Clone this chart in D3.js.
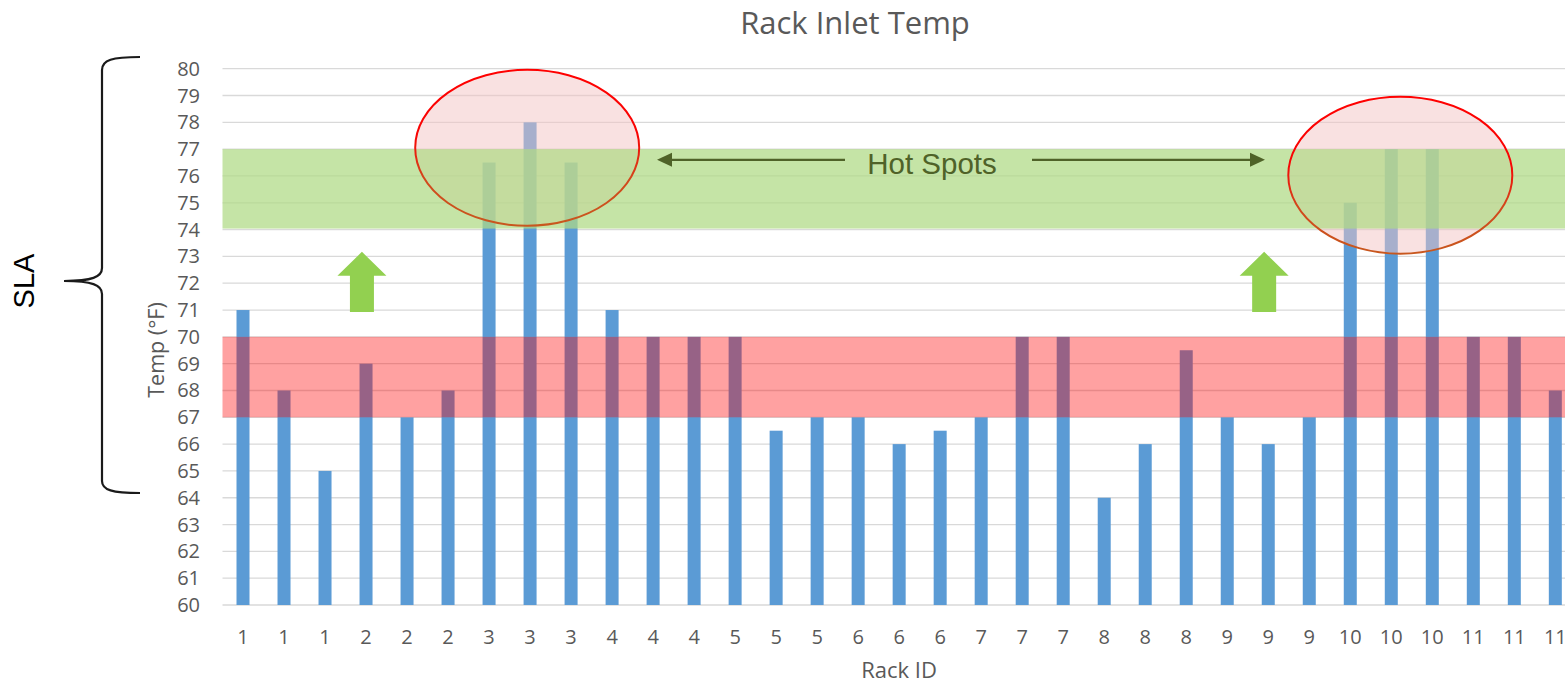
<!DOCTYPE html>
<html><head><meta charset="utf-8">
<script src="https://cdn.jsdelivr.net/npm/d3@7"></script>
<style>
html,body{margin:0;padding:0;background:#fff;}
svg{display:block;}
text{font-family:"Open Sans",sans-serif;}
</style></head>
<body>
<svg id="chart" width="1565" height="684"></svg>
<script>
// ---- data ----
const categories = ["1","1","1","2","2","2","3","3","3","4","4","4","5","5","5","6","6","6","7","7","7","8","8","8","9","9","9","10","10","10","11","11","11"];
const values = [71,68,65,69,67,68,76.5,78,76.5,71,70,70,70,66.5,67,67,66,66.5,67,70,70,64,66,69.5,67,66,67,75,77,77,70,70,68];
const yTicks = [60,61,62,63,64,65,66,67,68,69,70,71,72,73,74,75,76,77,78,79,80];
const yDomain = [60,80];
const hotBand = [74,77];     // green target band
const coldBand = [67,70];    // red (under-temp) band
const title = "Rack Inlet Temp";
const xTitle = "Rack ID";
const yTitle = "Temp (°F)";
const slaLabel = "SLA";
const hotLabel = "Hot Spots";

(function(){
// ---- layout ----
const svg = d3.select("#chart");
const pLeft = 222.5, step = 41.01;
const pRight = pLeft + step*categories.length;
const pTop = 68.7, pBottom = 605;

const idx = d3.range(categories.length);
const x = d3.scaleBand().domain(idx).range([pLeft, pRight]).paddingInner(0.683).paddingOuter(0.683/2);
const y = d3.scaleLinear().domain(yDomain).range([pBottom, pTop]);
const cx = i => x(i) + x.bandwidth()/2;
const xf = d3.scaleLinear().domain([0, categories.length-1]).range([cx(0), cx(categories.length-1)]);

const grey = "#595959";

const defs = svg.append("defs");
const grad = defs.append("linearGradient").attr("id","ellStroke").attr("x1",0).attr("y1",0).attr("x2",0).attr("y2",1);
grad.append("stop").attr("offset","0").attr("stop-color","#ff0000");
grad.append("stop").attr("offset","0.42").attr("stop-color","#f80404");
grad.append("stop").attr("offset","0.7").attr("stop-color","#d2481c");
grad.append("stop").attr("offset","1").attr("stop-color","#c8571e");

// gridlines
svg.append("g").selectAll("line").data(yTicks).join("line")
  .attr("x1", pLeft).attr("x2", pRight)
  .attr("y1", d=>y(d)).attr("y2", d=>y(d))
  .attr("stroke", "#d9d9d9").attr("stroke-width", 1.3);

// bars
svg.append("g").selectAll("rect").data(values).join("rect")
  .attr("x", (d,i)=>x(i)).attr("width", x.bandwidth())
  .attr("y", d=>y(d)).attr("height", d=>y(yDomain[0])-y(d))
  .attr("fill", "#5b9bd5");

// red band
svg.append("rect").attr("x", pLeft).attr("width", pRight-pLeft)
  .attr("y", y(coldBand[1])).attr("height", y(coldBand[0])-y(coldBand[1]))
  .attr("fill", "#ff0000").attr("fill-opacity", 0.37);

// ellipses (fill)
const ellipses = [{i:6.93, v:77.05, rx:112, ry:78}, {i:28.22, v:76.03, rx:112, ry:78.5}];
svg.append("g").selectAll("ellipse").data(ellipses).join("ellipse")
  .attr("cx", d=>xf(d.i)).attr("cy", d=>y(d.v)).attr("rx", d=>d.rx).attr("ry", d=>d.ry)
  .attr("fill", "#f4c4c4").attr("fill-opacity", 0.5);

// green band
svg.append("rect").attr("x", pLeft).attr("width", pRight-pLeft)
  .attr("y", y(hotBand[1])).attr("height", y(hotBand[0])-y(hotBand[1])-1)
  .attr("fill", "rgb(176,218,133)").attr("fill-opacity", 0.73);

// ellipse outlines
svg.append("g").selectAll("ellipse").data(ellipses).join("ellipse")
  .attr("cx", d=>xf(d.i)).attr("cy", d=>y(d.v)).attr("rx", d=>d.rx).attr("ry", d=>d.ry)
  .attr("fill", "none").attr("stroke", "url(#ellStroke)").attr("stroke-width", 2);

// up arrows
const upArrows = [2.9, 24.9];
const aTip = 73.17, aBase = 72.28, aBot = 70.93;
svg.append("g").selectAll("path").data(upArrows).join("path")
  .attr("d", d => {
    const c = xf(d);
    return `M${c},${y(aTip)} L${c+24.5},${y(aBase)} L${c+12},${y(aBase)} L${c+12},${y(aBot)} L${c-12},${y(aBot)} L${c-12},${y(aBase)} L${c-24.5},${y(aBase)} Z`;
  })
  .attr("fill", "#92d050");

// hot spots label and arrows
const hsColor = "#4f6228";
const hsY = y(76.6);
svg.append("text").attr("x", 932).attr("y", hsY+14).attr("text-anchor","middle")
  .style("font-family","'Liberation Sans',Arial,sans-serif").attr("font-size", 29.5)
  .attr("fill", hsColor).text(hotLabel);
svg.append("line").attr("x1", 845).attr("x2", 668).attr("y1", hsY).attr("y2", hsY).attr("stroke", hsColor).attr("stroke-width", 2.2);
svg.append("path").attr("d", `M657,${hsY} L672,${hsY-7} L672,${hsY+7} Z`).attr("fill", hsColor);
svg.append("line").attr("x1", 1032).attr("x2", 1252).attr("y1", hsY).attr("y2", hsY).attr("stroke", hsColor).attr("stroke-width", 2.2);
svg.append("path").attr("d", `M1265,${hsY} L1250,${hsY-7} L1250,${hsY+7} Z`).attr("fill", hsColor);

// y axis labels
svg.append("g").selectAll("text").data(yTicks).join("text")
  .attr("x", 200).attr("y", d=>y(d)).attr("dy", "0.35em")
  .attr("text-anchor", "end").attr("font-size", 20).attr("fill", grey).text(d=>d);

// x axis labels
svg.append("g").selectAll("text").data(categories).join("text")
  .attr("x", (d,i)=>cx(i)).attr("y", 644)
  .attr("text-anchor", "middle").attr("font-size", 20).attr("fill", grey).text(d=>d);

// titles
svg.append("text").attr("x", 855).attr("y", 34).attr("text-anchor","middle")
  .attr("font-size", 31).attr("fill", grey).text(title);
svg.append("text").attr("x", 899).attr("y", 678).attr("text-anchor","middle")
  .attr("font-size", 22).attr("fill", grey).text(xTitle);
svg.append("text").attr("transform", "translate(164,350) rotate(-90)").attr("text-anchor","middle")
  .attr("font-size", 21.5).attr("fill", grey).text(yTitle);

// SLA brace
svg.append("path")
  .attr("d", "M140,57 C112,57 102,60 102,70 L102,268 C102,277 92,281 64,281 C92,281 102,285 102,294 L102,481 C102,490 112,493 140,493")
  .attr("fill", "none").attr("stroke", "#1a1a1a").attr("stroke-width", 2.2);
svg.append("text").attr("transform", "translate(34,281) rotate(-90)").attr("text-anchor","middle")
  .style("font-family","'Liberation Sans',Arial,sans-serif").attr("font-size", 29).attr("fill", "#000").text(slaLabel);
})();
</script>
</body></html>
